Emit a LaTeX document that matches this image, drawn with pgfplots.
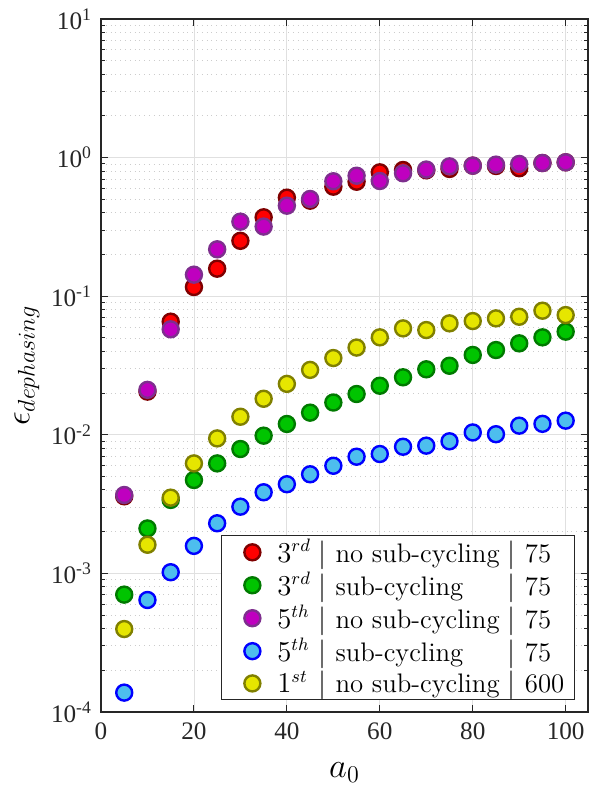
\documentclass[border=0pt]{standalone}
\usepackage{fontspec}
\usepackage{pgfplots}
\pgfplotsset{compat=1.18}
\newfontfamily\timesfont{Liberation Serif}

\definecolor{axgray}{HTML}{262626}
\definecolor{redfill}{HTML}{FF0000}\definecolor{rededge}{HTML}{7F0000}
\definecolor{grnfill}{HTML}{00C400}\definecolor{grnedge}{HTML}{007A00}
\definecolor{purfill}{HTML}{BF00BF}\definecolor{puredge}{HTML}{7E2F8E}
\definecolor{blufill}{HTML}{4DBEEE}\definecolor{bluedge}{HTML}{0000FF}
\definecolor{yelfill}{HTML}{E6E600}\definecolor{yeledge}{HTML}{808000}

% legend row: order | scheme | points
\newcommand{\legrow}[3]{\makebox[20.6pt][l]{$#1$}$|$\hspace{4.5pt}\makebox[86.1pt][l]{#2}$|$\hspace{4.6pt}#3}

\begin{document}
\begin{tikzpicture}
\begin{axis}[
  scale only axis, width=243.5pt, height=346.5pt,
  ymode=log, xmin=0, xmax=104.8, ymin=1e-4, ymax=1e1,
  xtick={0,20,40,60,80,100}, xticklabels={0,20,40,60,80,100},
  ytick={1e-4,1e-3,1e-2,1e-1,1e0,1e1},
  yticklabels={10\textsuperscript{-4},10\textsuperscript{-3},10\textsuperscript{-2},10\textsuperscript{-1},10\textsuperscript{0},10\textsuperscript{1}},
  minor ytick={2e-4,3e-4,4e-4,5e-4,6e-4,7e-4,8e-4,9e-4,
               2e-3,3e-3,4e-3,5e-3,6e-3,7e-3,8e-3,9e-3,
               2e-2,3e-2,4e-2,5e-2,6e-2,7e-2,8e-2,9e-2,
               2e-1,3e-1,4e-1,5e-1,6e-1,7e-1,8e-1,9e-1,
               2,3,4,5,6,7,8,9},
  tick label style={font=\timesfont\fontsize{12.6}{14}\selectfont, text=axgray},
  xticklabel style={yshift=-2pt},
  yticklabel style={xshift=-1pt},
  tick align=inside, tick pos=both,
  major tick length=3.5pt, minor tick length=2pt,
  every tick/.style={axgray, line width=0.5pt},
  axis line style={axgray, line width=0.6pt},
  grid=both,
  major grid style={solid, black!12, line width=0.4pt},
  minor grid style={dotted, black!20, line width=0.4pt},
  every axis x label/.style={at={(axis description cs:0.5,-0.087)}, anchor=center},
  every axis y label/.style={at={(axis description cs:-0.152,0.5)}, anchor=center, rotate=90},
  xlabel={\fontsize{18}{20}\selectfont $a_0$},
  ylabel={\fontsize{18}{20}\selectfont $\epsilon_{dephasing}$},
  legend style={at={(axis description cs:0.973,0.017)}, anchor=south east,
    draw=axgray, line width=0.5pt, fill=white,
    font=\fontsize{13.4}{15}\selectfont, cells={anchor=west},
    row sep=-0.5pt, inner xsep=3pt, inner ysep=0pt},
  legend image code/.code={\path (0cm,0cm) (0.78cm,0cm); \draw[mark size=4pt] plot coordinates {(0.42cm,0cm)};},
  mark options={line width=1.2pt},
]
% 3rd order, no sub-cycling, 75
\addplot[only marks, mark=*, mark size=4pt, draw=rededge, fill=redfill] coordinates {
 (5,0.0036) (10,0.0205) (15,0.0655) (20,0.1165) (25,0.158) (30,0.251)
 (35,0.371) (40,0.514) (45,0.489) (50,0.617) (55,0.670) (60,0.783)
 (65,0.814) (70,0.81) (75,0.828) (80,0.875) (85,0.87) (90,0.838)
 (95,0.914) (100,0.925)};
\addlegendentry{\legrow{3^{rd}}{no sub-cycling}{75}}
% 3rd order, sub-cycling, 75
\addplot[only marks, mark=*, mark size=4pt, draw=grnedge, fill=grnfill] coordinates {
 (5,7.03e-4) (10,2.11e-3) (15,3.39e-3) (20,4.72e-3) (25,6.22e-3) (30,7.9e-3)
 (35,9.86e-3) (40,0.01197) (45,0.01445) (50,0.0171) (55,0.0197) (60,0.0226)
 (65,0.026) (70,0.0297) (75,0.0315) (80,0.0377) (85,0.0409) (90,0.0457)
 (95,0.0505) (100,0.0555)};
\addlegendentry{\legrow{3^{rd}}{sub-cycling}{75}}
% 5th order, no sub-cycling, 75
\addplot[only marks, mark=*, mark size=4pt, draw=puredge, fill=purfill] coordinates {
 (5,0.00368) (10,0.0211) (15,0.0577) (20,0.143) (25,0.218) (30,0.345)
 (35,0.318) (40,0.450) (45,0.503) (50,0.675) (55,0.740) (60,0.678)
 (65,0.771) (70,0.82) (75,0.865) (80,0.875) (85,0.89) (90,0.90)
 (95,0.914) (100,0.925)};
\addlegendentry{\legrow{5^{th}}{no sub-cycling}{75}}
% 5th order, sub-cycling, 75
\addplot[only marks, mark=*, mark size=4pt, draw=bluedge, fill=blufill] coordinates {
 (5,1.38e-4) (10,6.43e-4) (15,1.02e-3) (20,1.58e-3) (25,2.30e-3) (30,3.03e-3)
 (35,3.85e-3) (40,4.40e-3) (45,5.19e-3) (50,5.98e-3) (55,6.95e-3) (60,7.27e-3)
 (65,8.2e-3) (70,8.35e-3) (75,8.98e-3) (80,0.0104) (85,0.0101) (90,0.01164)
 (95,0.0120) (100,0.01265)};
\addlegendentry{\legrow{5^{th}}{sub-cycling}{75}}
% 1st order, no sub-cycling, 600
\addplot[only marks, mark=*, mark size=4pt, draw=yeledge, fill=yelfill] coordinates {
 (5,3.97e-4) (10,1.61e-3) (15,3.52e-3) (20,6.22e-3) (25,9.42e-3) (30,0.0135)
 (35,0.0182) (40,0.0233) (45,0.0294) (50,0.0358) (55,0.0426) (60,0.0505)
 (65,0.0586) (70,0.057) (75,0.0637) (80,0.0662) (85,0.0692) (90,0.0711)
 (95,0.0786) (100,0.0731)};
\addlegendentry{\legrow{1^{st}}{no sub-cycling}{600}}
\end{axis}
\pgfresetboundingbox
\useasboundingbox (-50.5pt,-38.5pt) rectangle (246pt,356pt);
\end{tikzpicture}
\end{document}
